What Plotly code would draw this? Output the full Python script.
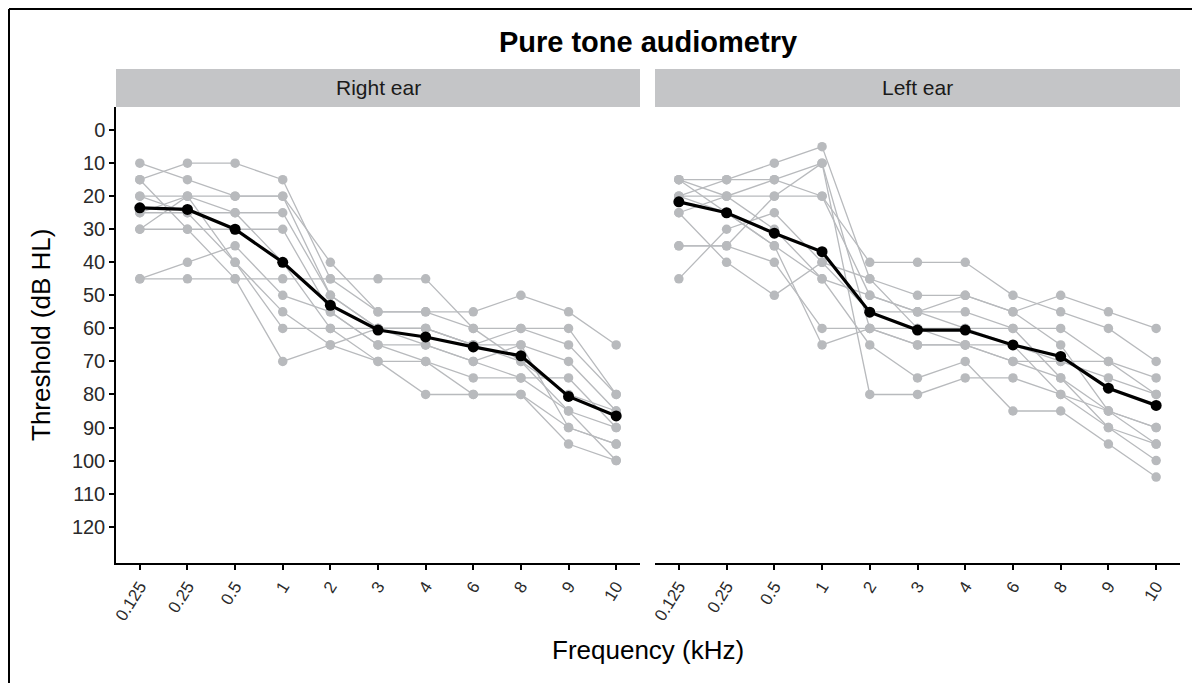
import plotly.graph_objects as go

freqs = ["0.125", "0.25", "0.5", "1", "2", "3", "4", "6", "8", "9", "10"]

# Individual thresholds (dB HL), right ear
right_subjects = [
    [10, 15, 20, 20, 40, 55, 55, 55, 50, 55, 65],
    [15, 10, 10, 15, 45, 55, 55, 60, 60, 60, 80],
    [20, 20, 20, 20, 50, 60, 60, 65, 60, 65, 80],
    [25, 20, 25, 25, 50, 60, 65, 70, 65, 70, 85],
    [30, 30, 30, 30, 55, 65, 65, 70, 75, 75, 90],
    [45, 45, 45, 45, 45, 45, 45, 60, 70, 85, 90],
    [45, 40, 35, 50, 55, 65, 70, 80, 80, 90, 95],
    [20, 25, 40, 60, 60, 70, 70, 75, 75, 85, 100],
    [15, 30, 45, 70, 65, 70, 80, 80, 80, 95, 100],
    [25, 25, 25, 40, 60, 60, 60, 65, 65, 90, 95],
    [30, 20, 40, 55, 65, 60, 60, 65, 70, 80, 85],
]
right_mean = [23.5, 24, 30, 40, 53, 60.5, 62.6, 65.6, 68.3, 80.6, 86.5]

# Individual thresholds (dB HL), left ear
left_subjects = [
    [15, 15, 10, 5, 45, 50, 50, 55, 50, 55, 60],
    [15, 20, 15, 10, 80, 80, 75, 75, 80, 85, 95],
    [20, 15, 15, 20, 40, 40, 40, 50, 55, 60, 70],
    [25, 20, 20, 20, 50, 55, 55, 60, 60, 70, 75],
    [35, 35, 20, 10, 60, 65, 65, 70, 70, 75, 80],
    [45, 30, 25, 40, 55, 55, 50, 55, 65, 85, 90],
    [20, 25, 35, 45, 65, 75, 70, 85, 85, 95, 105],
    [25, 40, 50, 40, 45, 60, 60, 60, 75, 90, 100],
    [35, 35, 40, 60, 60, 65, 65, 70, 75, 85, 90],
    [15, 25, 35, 65, 60, 60, 65, 65, 70, 70, 80],
    [20, 20, 30, 45, 50, 55, 60, 65, 80, 90, 95],
]
left_mean = [21.7, 25, 31.2, 36.8, 55.1, 60.5, 60.5, 65, 68.5, 78.1, 83.3]

y_ticks = [0, 10, 20, 30, 40, 50, 60, 70, 80, 90, 100, 110, 120]

FONT = "Liberation Sans, Arial, sans-serif"
GRAY = "rgb(184,186,189)"

fig = go.Figure()

for subjects, mean, xa, ya in [(right_subjects, right_mean, "x", "y"),
                               (left_subjects, left_mean, "x2", "y2")]:
    for s in subjects:
        fig.add_trace(go.Scatter(
            x=freqs, y=s, mode="lines+markers", xaxis=xa, yaxis=ya,
            line=dict(color=GRAY, width=1.3),
            marker=dict(color=GRAY, size=9.5),
            showlegend=False, hoverinfo="skip"))
    fig.add_trace(go.Scatter(
        x=freqs, y=mean, mode="lines+markers", xaxis=xa, yaxis=ya,
        line=dict(color="black", width=3.2),
        marker=dict(color="black", size=11),
        showlegend=False))

# The page body adds an 8px offset; targets below are given in screen pixels.
OFF = 8
W, H = 1200, 683
LEFT, RIGHT, TOP, BOTTOM = 116, 1180, 107, 563   # screen coords of plot area
ML = LEFT - OFF
MT = TOP - OFF
MR = W - (RIGHT - OFF)
MB = H - (BOTTOM - OFF)
PW = W - ML - MR
PH = H - MT - MB


def px(xs):
    return (xs - LEFT) / PW


def py(ys):
    return (BOTTOM - ys) / PH


xcommon = dict(
    type="category", categoryorder="array", categoryarray=freqs,
    range=[-0.5, 10.5], showline=True, linecolor="black", linewidth=1.5,
    ticks="outside", ticklen=5, tickwidth=1.5, tickcolor="black",
    tickangle=-58, showgrid=False, zeroline=False, automargin=False,
    tickfont=dict(family=FONT, size=17, color="#2a2a2a"),
)

fig.update_layout(
    width=W, height=H,
    margin=dict(l=ML, r=MR, t=MT, b=MB),
    plot_bgcolor="white", paper_bgcolor="white",
    font=dict(family=FONT),
    xaxis=dict(domain=[0, px(640)], anchor="y", **xcommon),
    xaxis2=dict(domain=[px(655), 1], anchor="y2", **xcommon),
    yaxis=dict(range=[131, -7], tickvals=y_ticks, showline=True,
               linecolor="black", linewidth=1.5, ticks="outside",
               ticklen=5, tickwidth=1.5, tickcolor="black",
               showgrid=False, zeroline=False, automargin=False,
               tickfont=dict(family=FONT, size=20, color="#2a2a2a")),
    yaxis2=dict(range=[131, -7], matches="y", anchor="x2",
                showline=False, showticklabels=False, ticks="",
                showgrid=False, zeroline=False, automargin=False),
    title=dict(text="<b>Pure tone audiometry</b>", x=px(648), xref="paper",
               xanchor="center", y=1 - (42 - OFF) / H, yanchor="middle",
               font=dict(family=FONT, size=29, color="black")),
)

shapes = []
annotations = []
for xr, label in [("x domain", "Right ear"), ("x2 domain", "Left ear")]:
    yr = "y domain" if xr == "x domain" else "y2 domain"
    shapes.append(dict(type="rect", xref=xr, yref=yr, x0=0, x1=1,
                       y0=1.0, y1=1 + (TOP - 69) / PH,
                       fillcolor="#C4C5C7", line=dict(width=0),
                       layer="below"))
    annotations.append(dict(text=label, xref=xr, yref=yr, x=0.5,
                            y=1 + (TOP - 69) / PH / 2, showarrow=False,
                            xanchor="center", yanchor="middle",
                            font=dict(family=FONT, size=21, color="#1a1a1a")))

# outer frame (top and left edges)
shapes.append(dict(type="line", xref="paper", yref="paper",
                   x0=px(OFF + 1), x1=px(1210), y0=py(OFF + 1), y1=py(OFF + 1),
                   line=dict(color="black", width=2)))
shapes.append(dict(type="line", xref="paper", yref="paper",
                   x0=px(OFF + 1), x1=px(OFF + 1), y0=py(OFF + 1), y1=py(700),
                   line=dict(color="black", width=2)))

annotations.append(dict(text="Threshold (dB HL)", xref="paper", yref="paper",
                        x=px(41), y=py(335), textangle=-90, showarrow=False,
                        xanchor="center", yanchor="middle",
                        font=dict(family=FONT, size=26, color="black")))
annotations.append(dict(text="Frequency (kHz)", xref="paper", yref="paper",
                        x=px(648), y=py(650), showarrow=False,
                        xanchor="center", yanchor="middle",
                        font=dict(family=FONT, size=26, color="black")))

fig.update_layout(shapes=shapes, annotations=annotations)

fig.write_html("out.html")
